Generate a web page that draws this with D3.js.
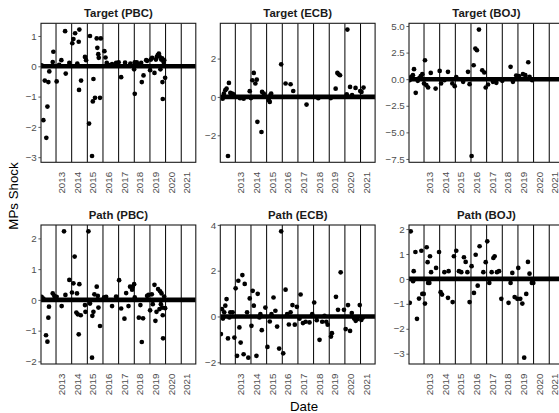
<!DOCTYPE html>
<html>
<head>
<meta charset="utf-8">
<script src="https://cdn.jsdelivr.net/npm/d3@7"></script>
<style>
  html, body { margin: 0; padding: 0; background: #fff; }
  svg { display: block; font-family: "Liberation Sans", Arial, sans-serif; }
</style>
</head>
<body>
<svg id="chart" width="559" height="413"></svg>
<script>
// Monetary-policy shock series, [decimal year, shock]
const targetPBC = [
  [2012.08, 0.03], [2012.19, -1.78], [2012.28, -0.47], [2012.38, -2.36], [2012.45, -1.33],
  [2012.51, -0.52], [2012.57, -0.17], [2012.79, 0.14], [2012.83, 0.48], [2013.04, -0.5],
  [2013.34, 0.2], [2013.58, 1.16], [2013.62, -0.24], [2013.85, 0.11], [2014.04, 0.76],
  [2014.11, 0.9], [2014.22, 1.09], [2014.36, 0.09], [2014.45, 0.81], [2014.49, 1.21],
  [2014.47, -0.78], [2014.6, -0.47], [2014.85, 0.31], [2014.92, 0.2], [2015.11, -1.89],
  [2015.17, 1.0], [2015.35, -1.16], [2015.39, -0.42], [2015.3, -2.96], [2015.49, -1.04],
  [2015.6, 0.92], [2015.64, 0.61], [2015.7, 0.4], [2015.73, 0.28], [2015.81, -1.04],
  [2015.86, 0.92], [2016.09, 0.5], [2016.16, 0.29], [2016.24, 0.11], [2016.58, 0.07],
  [2016.84, 0.11], [2017.0, 0.13], [2017.16, -0.36], [2017.41, 0.12], [2017.75, 0.09],
  [2017.99, -0.1], [2018.03, 0.13], [2018.03, -0.91], [2018.16, 0.13], [2018.44, 0.11],
  [2018.48, -0.52], [2018.59, -0.3], [2018.76, 0.2], [2018.82, 0.18], [2019.01, -0.13],
  [2019.06, 0.22], [2019.14, 0.28], [2019.29, -0.22], [2019.38, 0.22], [2019.44, 0.31],
  [2019.5, 0.37], [2019.57, 0.42], [2019.61, 0.33], [2019.67, -0.1], [2019.72, 0.22],
  [2019.78, 0.26], [2019.8, -0.52], [2019.82, -1.08], [2019.87, 0.14], [2019.91, 0.2],
  [2019.97, -0.38], [2013.2, 0.05], [2016.4, 0.04], [2018.3, 0.05]
];

const targetECB = [
  [2012.19, -0.09], [2012.27, 0.17], [2012.36, 0.35], [2012.44, 0.43], [2012.53, -3.08],
  [2012.59, 0.73], [2012.68, 0.21], [2012.79, 0.17], [2012.89, 0.14], [2013.53, -0.09],
  [2013.92, 0.3], [2014.09, 0.87], [2014.18, 1.25], [2014.28, 0.7], [2014.37, 0.9],
  [2014.41, -1.3], [2014.67, -1.83], [2014.71, 0.26], [2014.82, 0.17], [2015.14, -0.17],
  [2015.24, 0.09], [2015.29, 0.17], [2015.2, -0.26], [2015.93, 1.7], [2016.21, 0.7],
  [2016.53, 0.66], [2016.7, 0.31], [2017.55, -0.4], [2019.41, 0.43], [2019.52, 1.25],
  [2019.6, 1.18], [2019.69, 1.13], [2020.16, 3.51], [2020.12, 0.14], [2020.33, 0.52],
  [2020.46, 0.09], [2020.68, 0.47], [2020.98, 0.31], [2021.06, 0.26], [2021.19, 0.49],
  [2013.3, -0.07], [2014.0, -0.06], [2018.3, -0.07], [2019.1, -0.06]
];

const targetBOJ = [
  [2012.08, -0.09], [2012.18, 0.22], [2012.29, 0.38], [2012.36, 0.94], [2012.47, -1.28],
  [2012.6, -0.15], [2012.7, 0.1], [2012.79, 0.28], [2012.89, 0.47], [2013.0, -0.4],
  [2013.06, 1.78], [2013.15, -0.56], [2013.26, -0.78], [2013.43, 0.59], [2013.74, -0.88],
  [2014.0, 0.78], [2014.09, -0.4], [2014.3, -0.1], [2014.53, 0.69], [2014.81, -0.4],
  [2014.96, -0.66], [2015.06, 0.2], [2015.5, -0.25], [2015.81, 0.69], [2015.91, -0.47],
  [2016.04, -7.22], [2016.17, 1.31], [2016.28, 2.88], [2016.38, 2.72], [2016.51, 4.66],
  [2016.72, 0.84], [2016.85, 0.63], [2016.94, -0.78], [2017.09, -0.5], [2017.4, -0.25],
  [2017.62, -0.34], [2018.0, -0.15], [2018.53, 1.16], [2018.68, -0.25], [2018.89, 0.34],
  [2019.06, 0.28], [2019.32, 0.47], [2019.47, 0.38], [2019.66, 1.59], [2019.74, 0.22],
  [2019.91, -0.09]
];

const pathPBC = [
  [2012.08, 0.1], [2012.19, 0.04], [2012.36, -1.15], [2012.45, -1.36], [2012.51, -0.58],
  [2012.55, -0.22], [2012.79, 0.21], [2012.89, 0.13], [2013.04, 0.1], [2013.36, -0.2],
  [2013.51, 2.23], [2013.6, 0.16], [2013.85, 0.65], [2014.02, 0.24], [2014.11, 0.54],
  [2014.19, 1.41], [2014.3, -0.41], [2014.34, 0.21], [2014.39, -0.47], [2014.45, -1.12],
  [2014.49, 0.51], [2014.58, -0.5], [2014.85, -0.17], [2014.88, -0.39], [2015.07, 2.23],
  [2015.17, -0.12], [2015.3, -1.88], [2015.32, -0.52], [2015.39, -0.39], [2015.45, 0.18],
  [2015.6, 0.43], [2015.67, 0.13], [2015.71, -0.25], [2015.81, -0.85], [2016.07, 0.08],
  [2016.2, 0.1], [2016.58, -0.2], [2016.84, 0.11], [2017.03, 0.64], [2017.16, -0.28],
  [2017.37, -0.61], [2017.48, 0.22], [2017.63, -0.2], [2017.73, 0.43], [2017.86, 0.33],
  [2017.9, 0.42], [2017.99, 0.51], [2018.03, 0.08], [2018.29, -0.58], [2018.39, -0.17],
  [2018.48, -1.37], [2018.56, -0.6], [2018.82, 0.13], [2018.91, 0.16], [2019.01, -0.34],
  [2019.12, 0.18], [2019.18, -0.14], [2019.29, 0.49], [2019.35, -0.68], [2019.42, -0.39],
  [2019.52, 0.35], [2019.61, -0.3], [2019.65, 0.28], [2019.7, -0.14], [2019.74, 0.21],
  [2019.78, -0.25], [2019.82, -0.5], [2019.84, -1.25], [2019.91, 0.11], [2019.97, -0.27]
];

const pathECB = [
  [2012.08, -0.77], [2012.15, 0.32], [2012.21, -0.09], [2012.29, 0.18], [2012.36, 0.47],
  [2012.44, 0.76], [2012.53, -0.96], [2012.62, -0.04], [2012.68, 0.18], [2012.83, 0.18],
  [2012.94, -0.92], [2013.02, 1.23], [2013.11, -1.72], [2013.19, 1.56], [2013.26, -0.48],
  [2013.34, -1.14], [2013.45, 1.81], [2013.53, -1.65], [2013.6, 1.42], [2013.75, 0.18],
  [2013.83, -1.8], [2013.92, 0.79], [2014.03, -0.41], [2014.11, 1.12], [2014.18, 0.47],
  [2014.35, -1.72], [2014.43, 0.99], [2014.54, -0.04], [2014.6, 0.1], [2014.69, -0.6],
  [2014.92, 0.39], [2015.05, -1.33], [2015.2, -0.22], [2015.31, 0.1], [2015.44, 0.83],
  [2015.56, 0.25], [2015.67, -0.44], [2015.8, -1.4], [2015.93, 3.72], [2016.06, -1.61],
  [2016.21, 1.17], [2016.31, 0.1], [2016.42, -0.35], [2016.53, 0.18], [2016.65, 0.5],
  [2016.8, -0.36], [2016.93, 0.42], [2017.17, 0.96], [2017.1, -0.1], [2017.32, -0.29],
  [2017.49, -0.23], [2017.74, -0.26], [2017.91, 0.1], [2018.04, 0.61], [2018.2, -0.16],
  [2018.38, -1.02], [2018.55, -0.23], [2018.7, 0.03], [2018.81, -0.23], [2018.9, -0.36],
  [2019.11, -0.88], [2019.17, -0.73], [2019.43, 0.86], [2019.56, 0.29], [2019.73, 1.93],
  [2019.94, 0.29], [2020.05, -0.55], [2020.2, 0.5], [2020.33, -0.63], [2020.44, 0.15],
  [2020.59, -0.09], [2020.69, -0.19], [2020.79, -0.12], [2020.95, 0.5], [2021.05, -0.15],
  [2021.15, -0.05]
];

const pathBOJ = [
  [2012.09, -0.96], [2012.15, 1.91], [2012.3, -0.09], [2012.34, 0.31], [2012.45, 1.08],
  [2012.55, -1.6], [2012.68, -0.79], [2012.83, 1.13], [2012.89, -0.6], [2012.98, -0.6],
  [2013.06, -0.99], [2013.17, 1.27], [2013.23, 0.67], [2013.26, -0.16], [2013.34, -0.16],
  [2013.38, 0.91], [2013.45, 0.27], [2013.77, 0.44], [2013.96, 1.08], [2014.06, -0.53],
  [2014.15, -0.63], [2014.3, 0.27], [2014.53, -0.76], [2014.57, 0.31], [2014.83, -0.93],
  [2014.91, 0.91], [2015.06, 1.13], [2015.23, 0.31], [2015.38, 0.27], [2015.55, 0.87],
  [2015.66, 0.68], [2015.77, 0.27], [2015.91, -0.93], [2016.04, 0.51], [2016.19, -0.56],
  [2016.3, 0.97], [2016.43, -0.27], [2016.55, 1.31], [2016.79, 0.27], [2016.94, 0.67],
  [2017.04, 1.51], [2017.17, -0.16], [2017.32, 0.27], [2017.43, 0.84], [2017.51, 0.91],
  [2017.66, 0.27], [2017.79, 0.31], [2017.94, -0.8], [2018.4, -0.96], [2018.53, -0.16],
  [2018.64, 0.24], [2018.79, -0.73], [2018.96, -0.8], [2019.02, 0.44], [2019.15, -0.8],
  [2019.28, -0.99], [2019.4, -3.16], [2019.53, -0.6], [2019.64, 0.68], [2019.74, 0.21],
  [2019.89, -0.16], [2019.98, -0.16]
];

// Axis ticks
const yearTicks = [2013, 2014, 2015, 2016, 2017, 2018, 2019, 2020, 2021];
const yTicksTargetPBC = [-3, -2, -1, 0, 1];
const yTicksTargetECB = [-2, 0, 2];
const yTicksTargetBOJ = [-7.5, -5, -2.5, 0, 2.5, 5];
const yTicksPathPBC = [-2, -1, 0, 1, 2];
const yTicksPathECB = [-2, 0, 2, 4];
const yTicksPathBOJ = [-3, -2, -1, 0, 1, 2];
const xDomain = [2012.04, 2021.93];

const panels = [
  { title: "Target (PBC)", data: targetPBC, ticks: yTicksTargetPBC, fmt: d3.format("d"), col: 0, row: 0 },
  { title: "Target (ECB)", data: targetECB, ticks: yTicksTargetECB, fmt: d3.format("d"), col: 1, row: 0 },
  { title: "Target (BOJ)", data: targetBOJ, ticks: yTicksTargetBOJ, fmt: d3.format(".1f"), col: 2, row: 0 },
  { title: "Path (PBC)",   data: pathPBC,   ticks: yTicksPathPBC,   fmt: d3.format("d"), col: 0, row: 1 },
  { title: "Path (ECB)",   data: pathECB,   ticks: yTicksPathECB,   fmt: d3.format("d"), col: 1, row: 1 },
  { title: "Path (BOJ)",   data: pathBOJ,   ticks: yTicksPathBOJ,   fmt: d3.format("d"), col: 2, row: 1 }
];

// Facet grid geometry
const colLeft = [41, 220.3, 409];
const rowTop = [23.3, 225];
const panelW = 154.8;
const panelH = 139;

const svg = d3.select("#chart");

panels.forEach(p => {
  const x0 = colLeft[p.col], y0 = rowTop[p.row];
  const g = svg.append("g").attr("transform", `translate(${x0},${y0})`);

  const x = d3.scaleLinear().domain(xDomain).range([0, panelW]);
  const ext = d3.extent(p.data, d => d[1]);
  const pad = (ext[1] - ext[0]) * 0.05;
  const y = d3.scaleLinear().domain([ext[0] - pad, ext[1] + pad]).range([panelH, 0]);

  const clipId = "clip-" + p.col + "-" + p.row;
  g.append("clipPath").attr("id", clipId)
    .append("rect").attr("width", panelW).attr("height", panelH);

  const plot = g.append("g").attr("clip-path", `url(#${clipId})`);

  // white panel
  plot.append("rect").attr("width", panelW).attr("height", panelH).attr("fill", "#fff");

  // yearly vertical rules
  plot.selectAll("line.year").data(yearTicks).join("line")
    .attr("class", "year")
    .attr("x1", d => x(d)).attr("x2", d => x(d))
    .attr("y1", 0).attr("y2", panelH)
    .attr("stroke", "#000").attr("stroke-width", 1);

  // zero line
  plot.append("line")
    .attr("x1", 0).attr("x2", panelW)
    .attr("y1", y(0)).attr("y2", y(0))
    .attr("stroke", "#000").attr("stroke-width", 4.6);

  // shocks
  plot.selectAll("circle").data(p.data).join("circle")
    .attr("cx", d => x(d[0])).attr("cy", d => y(d[1]))
    .attr("r", 2.35).attr("fill", "#000");

  // panel border
  g.append("rect").attr("width", panelW).attr("height", panelH)
    .attr("fill", "none").attr("stroke", "#1a1a1a").attr("stroke-width", 1.1);

  // y axis
  const yAxis = g.append("g")
    .call(d3.axisLeft(y).tickValues(p.ticks).tickFormat(p.fmt).tickSize(2.6).tickPadding(1.6));
  yAxis.select(".domain").remove();
  yAxis.selectAll("line").attr("stroke", "#333").attr("stroke-width", 0.8);
  yAxis.selectAll("text").attr("fill", "#4d4d4d").style("font-size", "9.8px");

  // x axis with rotated year labels
  const xAxis = g.append("g").attr("transform", `translate(0,${panelH})`)
    .call(d3.axisBottom(x).tickValues(yearTicks).tickFormat(d3.format("d")).tickSize(0));
  xAxis.select(".domain").remove();
  xAxis.selectAll("text")
    .attr("fill", "#4d4d4d").style("font-size", "9.8px")
    .attr("text-anchor", "end")
    .attr("transform", "rotate(-90)")
    .attr("x", -9.5).attr("y", 8.6).attr("dy", 0);

  // strip title
  g.append("text")
    .attr("x", panelW / 2).attr("y", -10)
    .attr("dy", "0.35em")
    .attr("text-anchor", "middle")
    .attr("fill", "#1a1a1a")
    .style("font-size", "11.4px").style("font-weight", "bold")
    .text(p.title);
});

// axis titles
svg.append("text")
  .attr("x", 304).attr("y", 406).attr("dy", "0.35em")
  .attr("text-anchor", "middle")
  .style("font-size", "13.3px").attr("fill", "#000")
  .text("Date");

svg.append("text")
  .attr("transform", "translate(13,196) rotate(-90)")
  .attr("dy", "0.35em")
  .attr("text-anchor", "middle")
  .style("font-size", "13.3px").attr("fill", "#000")
  .text("MPs Shock");
</script>
</body>
</html>
